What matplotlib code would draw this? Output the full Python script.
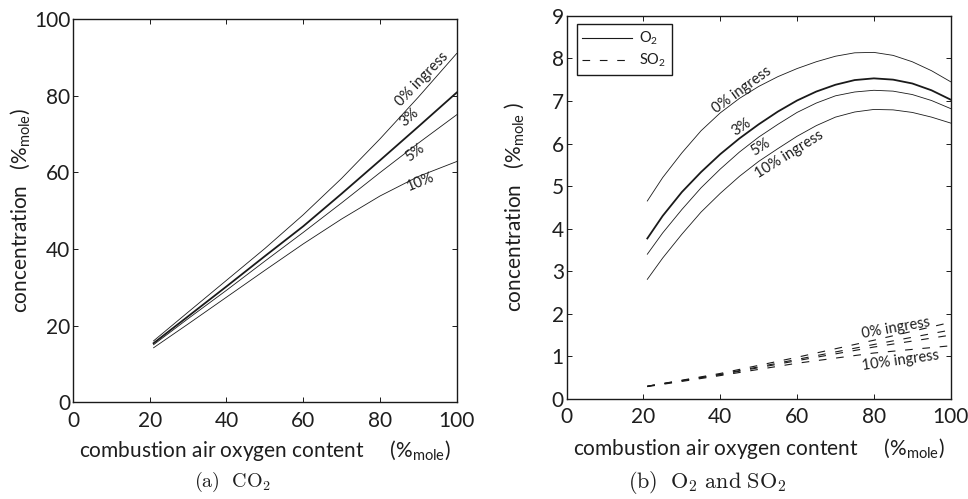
import matplotlib
matplotlib.use("Agg")
import matplotlib.pyplot as plt
from matplotlib.lines import Line2D

plt.rcParams['font.family'] = ['Lato', 'DejaVu Sans']
plt.rcParams['mathtext.fontset'] = 'custom'
plt.rcParams['mathtext.rm'] = 'Lato'
plt.rcParams['mathtext.it'] = 'Lato:italic'
plt.rcParams['mathtext.bf'] = 'Lato:bold'
plt.rcParams['lines.scale_dashes'] = False

# ---- data -------------------------------------------------------------
ingress_labels = ['0% ingress', '3%', '5%', '10%']

co2_x = [21, 30, 40, 50, 60, 70, 80, 90, 100]
co2_0 = [16.0, 23.5, 31.8, 40.1, 48.9, 58.4, 68.7, 79.6, 91.0]
co2_3 = [15.4, 22.4, 30.2, 38.1, 45.9, 54.4, 63.1, 71.9, 80.8]
co2_5 = [15.0, 21.8, 29.2, 36.8, 44.3, 52.0, 59.9, 67.6, 75.0]
co2_10 = [14.2, 20.4, 27.4, 34.4, 41.3, 47.8, 53.8, 58.9, 62.8]

o2_x = [21, 25, 30, 35, 40, 45, 50, 55, 60, 65, 70, 75, 80, 85, 90, 95, 100]
o2_0 = [4.65, 5.20, 5.78, 6.30, 6.72, 7.06, 7.34, 7.57, 7.76, 7.92, 8.05, 8.13, 8.14, 8.07, 7.92, 7.71, 7.45]
o2_3 = [3.77, 4.30, 4.86, 5.33, 5.75, 6.12, 6.45, 6.75, 7.01, 7.22, 7.38, 7.49, 7.53, 7.50, 7.41, 7.25, 7.03]
o2_5 = [3.40, 3.90, 4.45, 4.96, 5.40, 5.80, 6.15, 6.45, 6.73, 6.95, 7.12, 7.21, 7.25, 7.23, 7.15, 7.01, 6.82]
o2_10 = [2.81, 3.31, 3.87, 4.39, 4.83, 5.23, 5.58, 5.88, 6.17, 6.42, 6.62, 6.74, 6.80, 6.79, 6.73, 6.62, 6.48]

so2_x = [21, 40, 60, 80, 100]
so2_0 = [0.30, 0.60, 0.98, 1.38, 1.80]
so2_3 = [0.30, 0.58, 0.93, 1.28, 1.62]
so2_5 = [0.30, 0.57, 0.90, 1.22, 1.50]
so2_10 = [0.29, 0.55, 0.84, 1.08, 1.25]

# ---- styling ----------------------------------------------------------
INK = '#1a1a1a'
TXT = '#1e1e1e'
widths = [0.6, 1.3, 0.6, 0.6]
dash = (0, (5.5, 7.0))
FS = 15

fig = plt.figure(figsize=(9.68, 4.99), dpi=100)
ax1 = fig.add_axes([0.0754, 0.194, 0.3964, 0.768])
ax2 = fig.add_axes([0.5854, 0.2004, 0.3967, 0.768])


def style_axes(ax, yticks, ylim, ylabel, xlab_y):
    ax.set_xlim(0, 100)
    ax.set_ylim(*ylim)
    ax.set_xticks([0, 20, 40, 60, 80, 100])
    ax.set_yticks(yticks)
    ax.tick_params(direction='in', length=3.5, width=0.7, top=True, right=True,
                   labelsize=FS, colors=INK, labelcolor=TXT)
    ax.tick_params(axis='x', pad=6)
    ax.tick_params(axis='y', pad=2)
    for s in ax.spines.values():
        s.set_linewidth(1.0)
        s.set_color(INK)
    ax.set_xlabel(r'combustion air oxygen content     ($\%_{\mathrm{mole}}$)',
                  fontsize=FS, color=TXT)
    ax.xaxis.label.set_verticalalignment('center')
    ax.xaxis.set_label_coords(0.5, xlab_y)
    ax.set_ylabel(ylabel, fontsize=FS, color=TXT)
    ax.yaxis.label.set_verticalalignment('center')
    ax.yaxis.set_label_coords(-0.137, 0.5)


# ---- (a) CO2 ----------------------------------------------------------
for ys, lw in zip([co2_0, co2_3, co2_5, co2_10], widths):
    ax1.plot(co2_x, ys, color=INK, lw=lw)
style_axes(ax1, [0, 20, 40, 60, 80, 100], (0, 100),
           r'concentration   ($\%_{\mathrm{mole}}$)', -0.125)

co2_label_pos = [(91.0, 84.3, 46), (87.8, 74.3, 41), (89.1, 65.0, 37), (90.6, 57.4, 22)]
for txt, (x, y, r) in zip(ingress_labels, co2_label_pos):
    ax1.text(x, y, txt, rotation=r, rotation_mode='anchor', ha='center', va='center',
             fontsize=10.5, color=TXT)

# ---- (b) O2 and SO2 ---------------------------------------------------
for ys, lw in zip([o2_0, o2_3, o2_5, o2_10], widths):
    ax2.plot(o2_x, ys, color=INK, lw=lw)
for ys in [so2_0, so2_3, so2_5, so2_10]:
    ax2.plot(so2_x, ys, color=INK, lw=0.8, linestyle=dash)
style_axes(ax2, list(range(10)), (0, 9),
           r'concentration   ($\%_{\mathrm{mole}}$ )', -0.130)

o2_label_pos = [('0% ingress', 45.7, 7.25, 36), ('3%', 45.6, 6.38, 34),
                ('5%', 50.5, 5.92, 33), ('10% ingress', 57.9, 5.75, 32)]
for txt, x, y, r in o2_label_pos:
    ax2.text(x, y, txt, rotation=r, rotation_mode='anchor', ha='center', va='center',
             fontsize=10.5, color=TXT)
so2_label_pos = [('0% ingress', 85.7, 1.66, 10), ('10% ingress', 87.0, 0.90, 8)]
for txt, x, y, r in so2_label_pos:
    ax2.text(x, y, txt, rotation=r, rotation_mode='anchor', ha='center', va='center',
             fontsize=10.5, color=TXT)

handles = [Line2D([], [], color=INK, lw=0.8),
           Line2D([], [], color=INK, lw=0.8, linestyle=dash)]
leg = ax2.legend(handles, [r'O$_2$', r'SO$_2$'], loc='upper left',
                 bbox_to_anchor=(0.026, 0.978), borderaxespad=0, fontsize=10.5,
                 handlelength=3.4, handletextpad=0.5, borderpad=0.4,
                 labelspacing=0.3, fancybox=False, framealpha=1)
leg.get_frame().set_edgecolor(INK)
leg.get_frame().set_linewidth(1.0)
for t in leg.get_texts():
    t.set_color(TXT)

# ---- captions ---------------------------------------------------------
fig.text(232 / 968, 1 - 482 / 499, r'$\mathrm{(a)}\ \ \mathrm{CO_2}$',
         math_fontfamily='cm', fontsize=14.5, ha='center', va='center', color=TXT)
fig.text(707.5 / 968, 1 - 482 / 499, r'$\mathrm{(b)}\ \ \mathrm{O_2\ and\ SO_2}$',
         math_fontfamily='cm', fontsize=16, ha='center', va='center', color=TXT)

fig.savefig('out.png', dpi=100, facecolor='white')
